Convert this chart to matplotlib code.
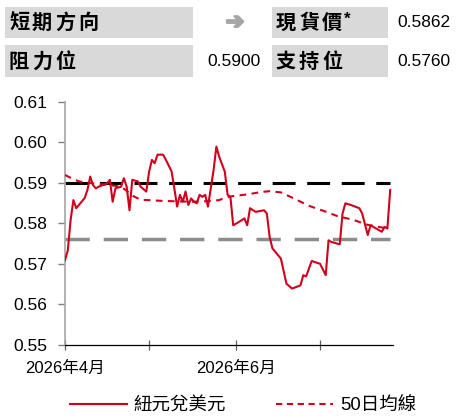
import matplotlib
matplotlib.use("Agg")
import matplotlib.pyplot as plt
import matplotlib.patheffects as pe
from matplotlib.patches import Rectangle
from matplotlib.lines import Line2D
import pandas as pd

# ---------------- data ----------------
start_date = "2026-04-01"
end_day = 117  # x-axis end, days after start

price_day = [0, 1, 2, 3, 4, 7, 8, 9, 10, 11, 12, 15, 16, 17, 18, 20, 21, 22, 23, 24,
             26, 27, 29, 30, 31, 32, 33, 35, 36, 38, 39, 40, 41, 42, 43, 44, 45, 46, 47, 48,
             49, 50, 51, 52, 53, 54, 55, 57, 58, 59, 60, 62, 64, 65, 66, 68, 71, 72, 73, 74,
             77, 79, 81, 84, 85, 86, 88, 91, 93, 94, 95, 98, 99, 100, 102, 105, 106, 108, 109, 110,
             112, 113, 114, 115, 116]
price = [0.5709, 0.5733, 0.5808, 0.5857, 0.5837, 0.5862, 0.5882, 0.5915, 0.5894, 0.5886,
         0.5890, 0.5898, 0.5907, 0.5853, 0.5886, 0.5890, 0.5911, 0.5890, 0.5832, 0.5907,
         0.5903, 0.5890, 0.5878, 0.5927, 0.5956, 0.5948, 0.5969, 0.5969, 0.5956, 0.5928,
         0.5886, 0.5841, 0.5870, 0.5853, 0.5878, 0.5845, 0.5861, 0.5853, 0.5849, 0.5870,
         0.5865, 0.5870, 0.5841, 0.5886, 0.5931, 0.5989, 0.5964, 0.5927, 0.5870, 0.5865,
         0.5795, 0.5803, 0.5812, 0.5795, 0.5837, 0.5828, 0.5832, 0.5824, 0.5766, 0.5738,
         0.5713, 0.5651, 0.5639, 0.5647, 0.5672, 0.5669, 0.5707, 0.5700, 0.5672, 0.5758,
         0.5754, 0.5748, 0.5824, 0.5849, 0.5845, 0.5837, 0.5824, 0.5771, 0.5795, 0.5791,
         0.5783, 0.5779, 0.5791, 0.5787, 0.5882]

ma_day = [0, 2, 5, 10, 15, 20, 22, 24, 27, 35, 45, 50, 55, 57, 60, 65, 70, 73, 77,
          82, 87, 92, 97, 103, 108, 112, 115]
ma50 = [0.5919, 0.5912, 0.5903, 0.5898, 0.5895, 0.5890, 0.5880, 0.5868, 0.5858, 0.5855,
        0.5853, 0.5854, 0.5857, 0.5863, 0.5867, 0.5871, 0.5877, 0.5879, 0.5876,
        0.5860, 0.5843, 0.5831, 0.5818, 0.5808, 0.5796, 0.5791, 0.5787]

resistance = 0.5900
support = 0.5760
spot = 0.5862

series_labels = ["紐元兌美元", "50日均線"]
table_labels = ["短期方向", "現貨價*", "阻力位", "支持位"]
direction_symbol = "➔"
month_ticks = ["2026-04-01", "2026-05-01", "2026-06-01", "2026-07-01"]
month_labels = ["2026年4月", "", "2026年6月", ""]
y_ticks = [0.55, 0.56, 0.57, 0.58, 0.59, 0.60, 0.61]

# ---------------- styling ----------------
RED = "#d0021b"
CJK = ["Noto Sans CJK TC", "DejaVu Sans"]
NUM = ["Liberation Sans", "DejaVu Sans"]
MIX = ["Liberation Sans", "Noto Sans CJK TC", "DejaVu Sans"]
plt.rcParams["font.family"] = MIX

W, H = 457, 418
fig = plt.figure(figsize=(W / 100, H / 100), dpi=100)

def fx(px):
    return px / W

def fy(py):
    return 1 - py / H

# ---------------- table on top ----------------
box_color = "#d9d9d9"
for (x0, x1, y0, y1) in [(5, 193, 7, 38), (272, 388, 7, 38), (5, 193, 45, 77), (272, 388, 45, 77)]:
    fig.patches.append(Rectangle((fx(x0), fy(y1)), fx(x1) - fx(x0), fy(y0) - fy(y1),
                                 transform=fig.transFigure, facecolor=box_color,
                                 edgecolor="none", zorder=0))

def spaced_label(text, x_left, y_center, advance=23.0, size=14.5):
    # draws a label with the wide letter spacing of the reference
    x = x_left
    for ch in text:
        if ch == "*":
            fig.text(fx(x - 1), fy(y_center - 3), ch, family=NUM, fontweight="bold",
                     fontsize=12, va="center", ha="left")
        else:
            fig.text(fx(x), fy(y_center), ch, family=CJK, fontweight="bold",
                     fontsize=size, va="center", ha="left")
        x += advance

row_py = [22.5, 61]
spaced_label(table_labels[0], 9, row_py[0])
spaced_label(table_labels[1], 276, row_py[0])
spaced_label(table_labels[2], 9, row_py[1])
spaced_label(table_labels[3], 276, row_py[1])

fig.text(fx(235), fy(row_py[0]), direction_symbol, family=["DejaVu Sans"], color="#a6a6a6",
         fontsize=16, fontweight="bold", va="center", ha="center",
         path_effects=[pe.withStroke(linewidth=1.6, foreground="#a6a6a6")])
fig.text(fx(397), fy(row_py[0]), f"{spot:.4f}", family=NUM, fontsize=12.5, va="center", ha="left")
fig.text(fx(261), fy(row_py[1]), f"{resistance:.4f}", family=NUM, fontsize=12.5, va="center", ha="right")
fig.text(fx(397), fy(row_py[1]), f"{support:.4f}", family=NUM, fontsize=12.5, va="center", ha="left")

# ---------------- chart ----------------
ax = fig.add_axes([fx(65), fy(345), fx(393) - fx(65), fy(101.5) - fy(345)])

base = pd.Timestamp(start_date)
p_dates = [base + pd.Timedelta(days=d) for d in price_day]
m_dates = [base + pd.Timedelta(days=d) for d in ma_day]

ax.plot([p_dates[0], p_dates[-1]], [resistance, resistance], color="black", lw=2.2,
        dashes=(7.5, 3.8), zorder=2)
ax.plot([p_dates[0], p_dates[-1]], [support, support], color="#8c8c8c", lw=2.5,
        dashes=(7.0, 4.0), zorder=2)
ax.plot(m_dates, ma50, color=RED, lw=1.5, dashes=(3.2, 2.6), zorder=3)
ax.plot(p_dates, price, color=RED, lw=1.5, zorder=4)

ax.set_xlim(base, base + pd.Timedelta(days=end_day))
ax.set_ylim(0.55, 0.61)
ax.set_yticks(y_ticks)
ax.set_yticklabels([f"{v:.2f}" for v in y_ticks], family=NUM, fontsize=12.5)
ax.set_xticks([pd.Timestamp(m) for m in month_ticks])
ax.set_xticklabels(month_labels, family=MIX, fontsize=12)

for s in ["top", "right"]:
    ax.spines[s].set_visible(False)
ax.spines["left"].set_color("#a6a6a6")
ax.spines["left"].set_linewidth(1.2)
ax.spines["bottom"].set_color("#000000")
ax.spines["bottom"].set_linewidth(0.9)
ax.tick_params(axis="y", length=5, width=1, color="#808080", pad=8)
ax.tick_params(axis="x", direction="inout", length=7, width=0.9, color="#606060", pad=8)

# ---------------- legend ----------------
handles = [Line2D([], [], color=RED, lw=1.5),
           Line2D([], [], color=RED, lw=1.5, dashes=(3.0, 2.2))]
leg = ax.legend(handles, series_labels, loc="center left",
                bbox_to_anchor=(fx(70), fy(406)), bbox_transform=fig.transFigure,
                ncol=2, frameon=False, borderpad=0, borderaxespad=0,
                handlelength=3.1, handletextpad=0.35, columnspacing=2.7,
                prop={"family": MIX, "size": 13.3})

fig.savefig("out.png", dpi=100)
